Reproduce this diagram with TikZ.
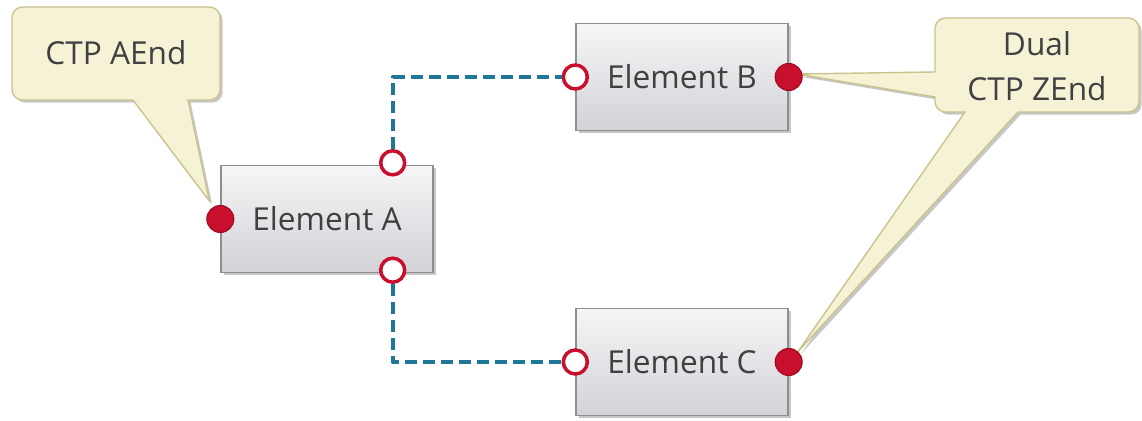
\documentclass[tikz,border=0pt]{standalone}
\usepackage{fontspec}
\setmainfont{Open Sans}
\usetikzlibrary{calc,shadows,backgrounds}
\definecolor{ink}     {HTML}{404040}
\definecolor{portred} {HTML}{C8102E}
\definecolor{portedge}{HTML}{9A0B20}
\definecolor{linkteal}{HTML}{1E7796}
\definecolor{boxtop}  {HTML}{F6F6F8}
\definecolor{boxbot}  {HTML}{D2D2D7}
\definecolor{boxline} {HTML}{8E8E8E}
\definecolor{notefill}{HTML}{F6F2D6}
\definecolor{noteline}{HTML}{C9C48E}
\tikzset{
  shadowy/.style={drop shadow={shadow xshift=1.5pt, shadow yshift=-1.5pt,
                               fill=black, opacity=0.22}},
  elemnode/.style={
    rectangle, draw=boxline, line width=0.8pt,
    top color=boxtop, bottom color=boxbot,
    text=ink, font=\fontsize{18}{22}\selectfont,
    minimum width=4.24cm, minimum height=2.14cm, shadowy
  },
  portout/.style={circle, draw=portedge, line width=0.6pt, fill=portred,
                  minimum size=0.54cm, inner sep=0pt},
  portin/.style={circle, draw=portred, line width=0.07cm, fill=white,
                 minimum size=0.48cm, inner sep=0pt},
  linkline/.style={draw=linkteal, line width=0.08cm, line join=round,
                   dash pattern=on 0.24cm off 0.12cm},
  notebg/.style={draw=noteline, line width=0.8pt, fill=notefill, shadowy},
  notetext/.style={text=ink, font=\fontsize{18}{26}\selectfont, align=center}
}

\begin{document}
\begin{tikzpicture}[x=0.02cm, y=-0.02cm]
  \useasboundingbox (0,0) rectangle (1142,421);
  \node[elemnode] (ela) at (327,219) {Element A};
  \node[elemnode] (elb) at (682,77)  {Element B};
  \node[elemnode] (elc) at (682,362) {Element C};
  % ports
  \node[portout] (aend)  at (ela.west) {};
  \node[portin]  (aup)   at ($(ela.north east)+(-41,-2)$) {};
  \node[portin]  (adown) at ($(ela.south east)+(-41,-3)$) {};
  \node[portin]  (bin)   at (elb.west) {};
  \node[portout] (bout)  at (elb.east) {};
  \node[portin]  (cin)   at (elc.west) {};
  \node[portout] (cout)  at (elc.east) {};
  \draw[linkline] (aup) |- (bin);
  \draw[linkline] (adown) |- (cin);
  % callouts
  \begin{scope}[on background layer]
    \path[notebg] (133,100) [rounded corners=6pt] -- (12,100) -- (12,7)
      -- (220,7) -- (220,100) [sharp corners] -- (188,100)
      -- ($(aend)+(-11,-18)$) -- cycle;
    \path[notebg] (965,112) [rounded corners=6pt] -- (935,112)
      [sharp corners] -- (935,97) -- ($(bout)+(8,-3)$) -- (935,72)
      [rounded corners=6pt] -- (935,18) -- (1139,18) -- (1139,112)
      [sharp corners] -- (1018,112) -- ($(cout)+(9,-10)$) -- cycle;
  \end{scope}
  \node[notetext] (ctpa) at (116,53) {CTP AEnd};
  \node[notetext] (ctpz) at (1037,66) {Dual\\CTP ZEnd};
\end{tikzpicture}
\end{document}
